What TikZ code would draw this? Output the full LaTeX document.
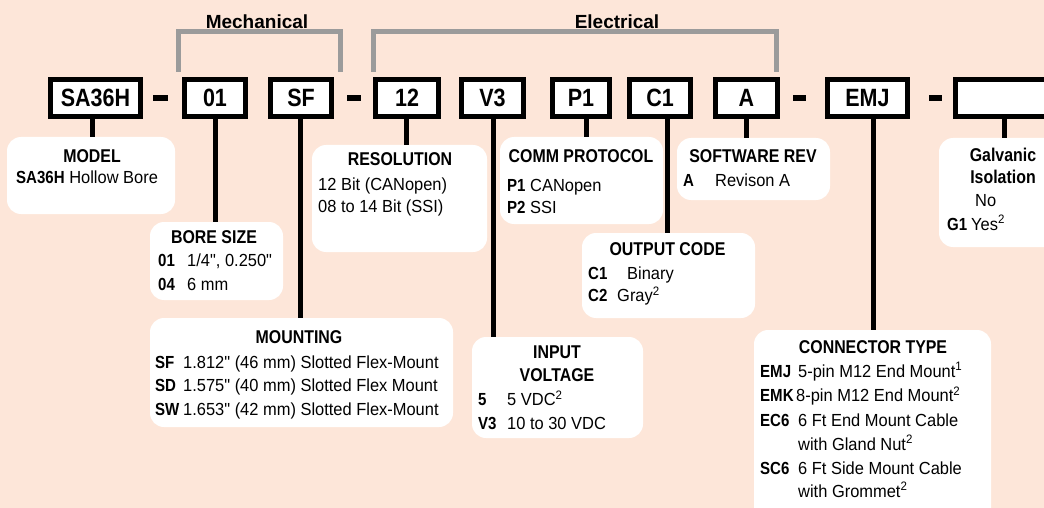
\documentclass[tikz,border=0pt]{standalone}
\usepackage{fontspec}
\setmainfont{Liberation Sans}
\newfontfamily\rgfont{Liberation Sans}[FakeStretch=0.94]
\newfontfamily\bdfont{Liberation Sans}[FakeStretch=0.86]
\newfontfamily\hdfont{Liberation Sans}
\newcommand{\cde}[1]{{\bdfont\bfseries #1}}
\definecolor{bgpeach}{RGB}{253,230,217}
\definecolor{brk}{RGB}{155,155,155}
\begin{document}
\begin{tikzpicture}[x=1pt,y=-1pt,
 codebox/.style={draw=black, line width=4.7pt, fill=white, inner sep=0pt, minimum height=37.3pt, font=\bdfont\bfseries\fontsize{25}{25}\selectfont},
 infobox/.style={fill=white, rounded corners=14pt, inner sep=0pt},
 conn/.style={line width=5pt, black},
 dashmark/.style={line width=6pt, black},
 brack/.style={line width=5pt, brk},
 hd/.style={inner sep=0pt, anchor=base, font=\bdfont\bfseries\fontsize{18.5}{20}\selectfont},
 txt/.style={inner sep=0pt, anchor=base west, font=\rgfont\fontsize{17.5}{20}\selectfont},
 cd/.style={inner sep=0pt, anchor=base west, font=\bdfont\bfseries\fontsize{17.5}{20}\selectfont},
 grp/.style={inner sep=0pt, anchor=base, font=\hdfont\bfseries\fontsize{19}{20}\selectfont},
]
\useasboundingbox (0,0) rectangle (1044,508);
\fill[bgpeach] (0,0) rectangle (1044,508);

% brackets and group labels
\draw[brack] (178,72) -- (178,32) -- (340,32) -- (340,72);
\draw[brack] (373,72) -- (373,32) -- (776,32) -- (776,72);
\node[grp] (mech) at (257,29) {Mechanical};
\node[grp] (elec) at (617,29) {Electrical};

% code boxes
\node[codebox, minimum width=90.3pt] (sa) at (95.5,98) {SA36H};
\node[codebox, minimum width=61.3pt] (b01) at (215,98) {01};
\node[codebox, minimum width=61.3pt] (sf) at (301,98) {SF};
\node[codebox, minimum width=63.3pt] (r12) at (407,98) {12};
\node[codebox, minimum width=62.3pt] (v3) at (492.5,98) {V3};
\node[codebox, minimum width=57.3pt] (p1) at (581,98) {P1};
\node[codebox, minimum width=61.3pt] (c1) at (660,98) {C1};
\node[codebox, minimum width=62.3pt] (arev) at (746.5,98) {A};
\node[codebox, minimum width=80.3pt] (emj) at (867.5,98) {EMJ};
\node[codebox, minimum width=112.3pt] (gal) at (1011.5,98) {};

% dashes
\draw[dashmark] (153,98) -- (168,98);
\draw[dashmark] (347,98) -- (361,98);
\draw[dashmark] (793,98) -- (806,98);
\draw[dashmark] (929,98) -- (942,98);

% info boxes
\node[infobox, minimum width=168pt, minimum height=77pt] (model) at (91,175.5) {};
\node[infobox, minimum width=133pt, minimum height=78pt] (bore) at (216.5,261) {};
\node[infobox, minimum width=303pt, minimum height=109pt] (mount) at (301.5,372.5) {};
\node[infobox, minimum width=175pt, minimum height=107pt] (res) at (399.5,198.5) {};
\node[infobox, minimum width=171pt, minimum height=101pt] (volt) at (557.5,387.5) {};
\node[infobox, minimum width=163pt, minimum height=87pt] (comm) at (581.5,180.5) {};
\node[infobox, minimum width=173pt, minimum height=85pt] (outc) at (668.5,275.5) {};
\node[infobox, minimum width=153pt, minimum height=62pt] (soft) at (753.5,169) {};
\node[infobox, minimum width=237pt, minimum height=195pt] (connt) at (872.5,427.5) {};
\node[infobox, minimum width=131pt, minimum height=109pt] (galv) at (1004.5,192.5) {};

% connectors
\coordinate (saC) at ([xshift=-3.5pt]sa.south);
\coordinate (b01C) at (b01.south);
\coordinate (sfC) at ([xshift=-1pt]sf.south);
\coordinate (r12C) at ([xshift=-1pt]r12.south);
\coordinate (v3C) at ([xshift=0.5pt]v3.south);
\coordinate (p1C) at ([xshift=5pt]p1.south);
\coordinate (c1C) at ([xshift=7pt]c1.south);
\coordinate (arevC) at ([xshift=-0.5pt]arev.south);
\coordinate (emjC) at ([xshift=5.5pt]emj.south);
\coordinate (galC) at ([xshift=-7.5pt]gal.south);
\draw[conn] (saC) -- (saC |- model.north);
\draw[conn] (b01C) -- (b01C |- bore.north);
\draw[conn] (sfC) -- (sfC |- mount.north);
\draw[conn] (r12C) -- (r12C |- res.north);
\draw[conn] (v3C) -- (v3C |- volt.north);
\draw[conn] (p1C) -- (p1C |- comm.north);
\draw[conn] (c1C) -- (c1C |- outc.north);
\draw[conn] (arevC) -- (arevC |- soft.north);
\draw[conn] (emjC) -- (emjC |- connt.north);
\draw[conn] (galC) -- (galC |- galv.north);

% model
\node[hd] (modelH) at (92,162) {MODEL};
\node[txt] (modelL) at (16,183) {\cde{SA36H} Hollow Bore};
% bore
\node[hd] (boreH) at (214,243) {BORE SIZE};
\node[cd] (boreC1) at (158,266.5) {01};
\node[txt] (boreV1) at (187,266.5) {1/4", 0.250"};
\node[cd] (boreC2) at (158,290.5) {04};
\node[txt] (boreV2) at (187,290.5) {6 mm};
% mounting
\node[hd] (mountH) at (299,343) {MOUNTING};
\node[cd] (mountC1) at (155,368) {SF};
\node[txt] (mountV1) at (183,368) {1.812" (46 mm) Slotted Flex-Mount};
\node[cd] (mountC2) at (155,391.5) {SD};
\node[txt] (mountV2) at (183,391.5) {1.575" (40 mm) Slotted Flex Mount};
\node[cd] (mountC3) at (155,415) {SW};
\node[txt] (mountV3) at (183,415) {1.653" (42 mm) Slotted Flex-Mount};
% resolution
\node[hd] (resH) at (400,165.5) {RESOLUTION};
\node[txt] (resV1) at (318,190) {12 Bit (CANopen)};
\node[txt] (resV2) at (318,212) {08 to 14 Bit (SSI)};
% input voltage
\node[hd] (voltH1) at (557,358) {INPUT};
\node[hd] (voltH2) at (557,381.5) {VOLTAGE};
\node[cd] (voltC1) at (478,405.5) {5};
\node[txt] (voltV1) at (507,405.5) {5 VDC\textsuperscript{2}};
\node[cd] (voltC2) at (478,429) {V3};
\node[txt] (voltV2) at (507,429) {10 to 30 VDC};
% comm protocol
\node[hd] (commH) at (581,162) {COMM PROTOCOL};
\node[cd] (commC1) at (507,191.5) {P1};
\node[txt] (commV1) at (530,191.5) {CANopen};
\node[cd] (commC2) at (507,213) {P2};
\node[txt] (commV2) at (530,213) {SSI};
% output code
\node[hd] (outH) at (667.5,255) {OUTPUT CODE};
\node[cd] (outC1) at (588,279) {C1};
\node[txt] (outV1) at (627,279) {Binary};
\node[cd] (outC2) at (588,301.5) {C2};
\node[txt] (outV2) at (617,301.5) {Gray\textsuperscript{2}};
% software rev
\node[hd] (softH) at (753,163) {SOFTWARE REV};
\node[cd] (softC1) at (683,186.5) {A};
\node[txt] (softV1) at (715,186.5) {Revison A};
% galvanic
\node[hd] (galvH1) at (1003,161.5) {Galvanic};
\node[hd] (galvH2) at (1003,183) {Isolation};
\node[txt] (galvV1) at (975,206.5) {No};
\node[cd] (galvC2) at (947,230) {G1};
\node[txt] (galvV2) at (971,230) {Yes\textsuperscript{2}};
% connector type
\node[hd] (connH) at (873,353) {CONNECTOR TYPE};
\node[cd] (connC1) at (760,377) {EMJ};
\node[txt] (connV1) at (798,377) {5-pin M12 End Mount\textsuperscript{1}};
\node[cd] (connC2) at (760,401.5) {EMK};
\node[txt] (connV2) at (796,401.5) {8-pin M12 End Mount\textsuperscript{2}};
\node[cd] (connC3) at (760,426) {EC6};
\node[txt] (connV3) at (798,426) {6 Ft End Mount Cable};
\node[txt] (connV3b) at (798,450) {with Gland Nut\textsuperscript{2}};
\node[cd] (connC4) at (760,474) {SC6};
\node[txt] (connV4) at (798,474) {6 Ft Side Mount Cable};
\node[txt] (connV4b) at (798,497) {with Grommet\textsuperscript{2}};
\end{tikzpicture}
\end{document}
